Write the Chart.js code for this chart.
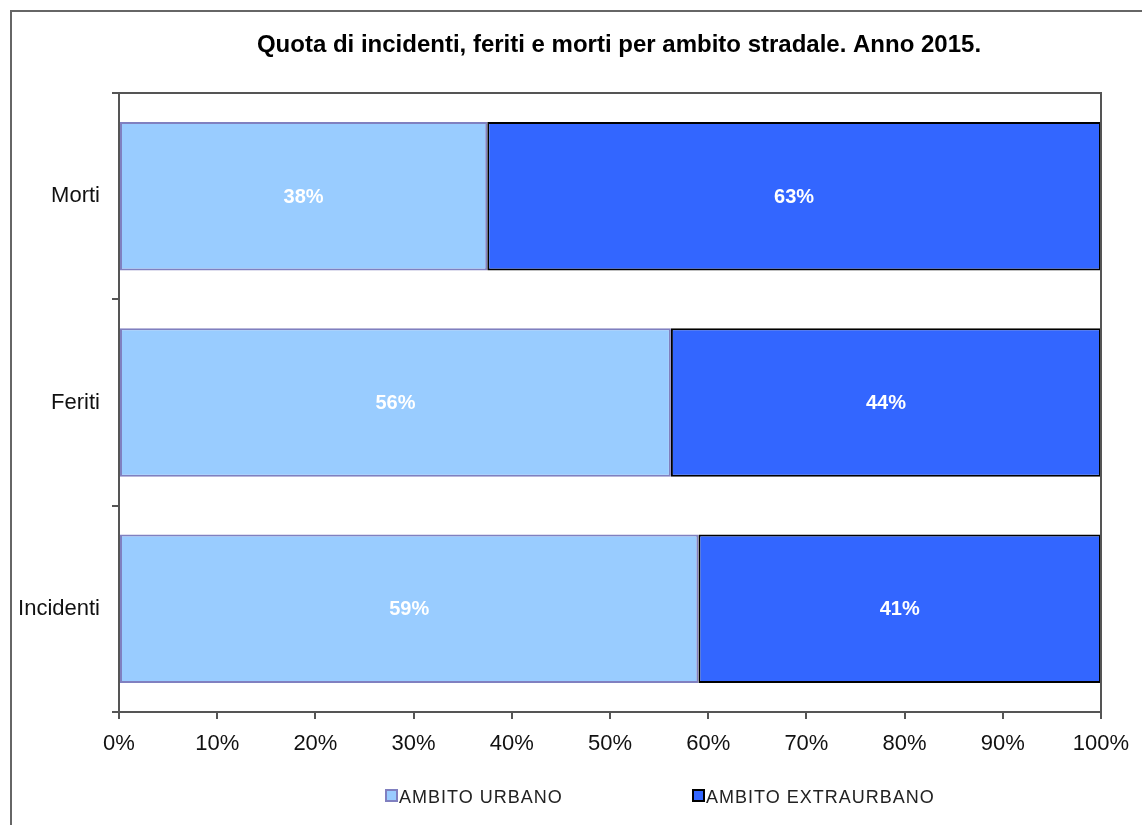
<!DOCTYPE html>
<html lang="it">
<head>
  <meta charset="UTF-8">
  <title>Quota di incidenti, feriti e morti</title>
  <script src="https://cdn.jsdelivr.net/npm/chart.js"></script>
  <style>
    body {
      margin: 0;
      background: #ffffff;
      font-family: 'Liberation Sans', Arial, sans-serif;
    }
    .wrap {
      position: relative;
      width: 1142px;
      height: 825px;
      overflow: hidden;
    }
    .cornice {
      position: absolute;
      left: 10px;
      top: 10px;
      width: 1200px;
      height: 900px;
      border: 2px solid #666;
      pointer-events: none;
    }
    .legenda {
      position: absolute;
      top: 787px;
      left: 0;
      width: 1142px;
      font-size: 18px;
      letter-spacing: 1px;
      color: #222;
    }
    .legenda span {
      position: absolute;
      white-space: nowrap;
    }
    .legenda i {
      display: inline-block;
      width: 9px;
      height: 9px;
      border: 2px solid;
      margin-right: 1px;
      vertical-align: 1px;
    }
  </style>
</head>
<body>
  <div class="wrap">
    <canvas id="chart" width="1142" height="825"></canvas>
    <div class="cornice"></div>
    <div class="legenda" id="legenda"></div>
  </div>

  <script>
  const titolo = 'Quota di incidenti, feriti e morti per ambito stradale. Anno 2015.';
  const categorie = ['Morti', 'Feriti', 'Incidenti'];
  const urbano = [37.5, 56.2, 59.0];
  const extraurbano = [62.5, 43.8, 41.0];
  const tickX = [0, 10, 20, 30, 40, 50, 60, 70, 80, 90, 100];
  const posLegenda = [385, 692];

  const fontBase = "'Liberation Sans', Arial, sans-serif";

  // etichette bianche dentro le barre + titolo + bordo area grafico
  const extra = {
    id: 'extra',
    afterDatasetsDraw(chart) {
      const ctx = chart.ctx;
      ctx.save();
      ctx.fillStyle = '#ffffff';
      ctx.font = 'bold 20px ' + fontBase;
      ctx.textAlign = 'center';
      ctx.textBaseline = 'middle';
      chart.data.datasets.forEach((ds, i) => {
        chart.getDatasetMeta(i).data.forEach((bar, j) => {
          const p = bar.getCenterPoint();
          ctx.fillText(Math.round(ds.data[j]) + '%', p.x, p.y + 1);
        });
      });
      ctx.restore();
    },
    afterDraw(chart) {
      const ctx = chart.ctx;
      const a = chart.chartArea;
      ctx.save();
      ctx.strokeStyle = '#555';
      ctx.lineWidth = 2;
      ctx.beginPath();
      ctx.moveTo(a.left - 7, a.top);
      ctx.lineTo(a.right, a.top);
      ctx.lineTo(a.right, a.bottom);
      ctx.stroke();
      ctx.fillStyle = '#000';
      ctx.font = 'bold 24px ' + fontBase;
      ctx.textAlign = 'center';
      ctx.textBaseline = 'middle';
      ctx.fillText(titolo, (a.left + a.right) / 2 + 9, 45);
      ctx.restore();
    }
  };

  const grafico = new Chart(document.getElementById('chart'), {
    type: 'bar',
    data: {
      labels: categorie,
      datasets: [
        { label: 'AMBITO URBANO', data: urbano, backgroundColor: '#99CCFF', borderColor: '#8080C0', borderWidth: 2, borderSkipped: false },
        { label: 'AMBITO EXTRAURBANO', data: extraurbano, backgroundColor: '#3366FF', borderColor: '#000000', borderWidth: 2, borderSkipped: false }
      ]
    },
    options: {
      indexAxis: 'y',
      responsive: false,
      animation: false,
      layout: { padding: { top: 93, right: 41, left: 0, bottom: 0 } },
      datasets: { bar: { categoryPercentage: 1, barPercentage: 0.72 } },
      plugins: {
        legend: { display: false },
        tooltip: { enabled: false }
      },
      scales: {
        x: {
          stacked: true,
          min: 0,
          max: 100,
          afterFit(s) { s.height = 113; },
          afterBuildTicks(s) { s.ticks = tickX.map(v => ({ value: v })); },
          border: { color: '#555', width: 2 },
          grid: { drawOnChartArea: false, color: '#555', tickLength: 7, lineWidth: 2 },
          ticks: {
            padding: 12,
            color: '#111',
            font: { size: 22, family: fontBase },
            maxRotation: 0,
            callback: v => v + '%'
          }
        },
        y: {
          stacked: true,
          afterFit(s) { s.width = 119; },
          border: { color: '#555', width: 2 },
          grid: { drawOnChartArea: false, color: '#555', tickLength: 7, lineWidth: 2, offset: true },
          ticks: {
            padding: 12,
            color: '#111',
            font: { size: 22, family: fontBase }
          }
        }
      }
    },
    plugins: [extra]
  });

  // legenda in basso
  const leg = document.getElementById('legenda');
  grafico.data.datasets.forEach((ds, i) => {
    const s = document.createElement('span');
    s.style.left = posLegenda[i] + 'px';
    const box = document.createElement('i');
    box.style.background = ds.backgroundColor;
    box.style.borderColor = ds.borderColor;
    s.appendChild(box);
    s.appendChild(document.createTextNode(ds.label));
    leg.appendChild(s);
  });
  </script>
</body>
</html>
